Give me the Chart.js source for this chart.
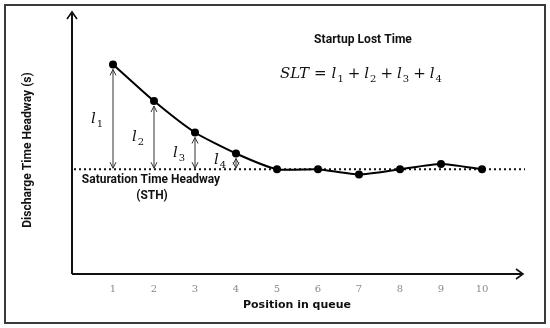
<!DOCTYPE html>
<html>
<head>
<meta charset="utf-8">
<script src="https://cdn.jsdelivr.net/npm/chart.js@4"></script>
<style>
  html, body { margin: 0; padding: 0; background: #fff; }
  #wrap { width: 550px; height: 328px; position: relative; }
</style>
</head>
<body>
<div id="wrap"><canvas id="c" width="550" height="328"></canvas></div>
<script>
// queue positions and discharge headways (s)
const positions = [1, 2, 3, 4, 5, 6, 7, 8, 9, 10];
const headways = [4.0, 3.3, 2.7, 2.3, 2.0, 2.0, 1.9, 2.0, 2.1, 2.0];
const saturationHeadway = 2.0;
const lostLabels = ['l1', 'l2', 'l3', 'l4'];
const xTicks = [1, 2, 3, 4, 5, 6, 7, 8, 9, 10];

const narrow = 'Roboto, "Liberation Sans", sans-serif';
const mathFont = '"DejaVu Serif", "Liberation Serif", serif';

function mathLabel(ctx, base, sub, x, y, size) {
  ctx.font = 'italic ' + size + 'px ' + mathFont;
  ctx.textAlign = 'left';
  ctx.textBaseline = 'alphabetic';
  ctx.fillText(base, x, y);
  const w = ctx.measureText(base).width;
  ctx.font = Math.round(size * 0.68) + 'px ' + mathFont;
  ctx.fillText(sub, x + w + 1, y + size * 0.25);
  return w + 1 + ctx.measureText(sub).width;
}

// condensed-looking text by squeezing horizontally
function squeezed(ctx, text, x, y, sx) {
  ctx.save();
  ctx.translate(x, y);
  ctx.scale(sx, 1);
  ctx.fillText(text, 0, 0);
  ctx.restore();
}

const overlay = {
  id: 'overlay',
  beforeDraw(chart) {
    const ctx = chart.ctx;
    const xs = chart.scales.x, ys = chart.scales.y;
    ctx.save();
    // outer frame
    ctx.strokeStyle = '#3a3a3a';
    ctx.lineWidth = 2;
    ctx.strokeRect(5, 5, 540, 318);

    // saturation dotted line
    const ySat = ys.getPixelForValue(saturationHeadway);
    ctx.strokeStyle = '#111';
    ctx.lineWidth = 2;
    ctx.setLineDash([2, 3]);
    ctx.beginPath();
    ctx.moveTo(xs.left + 2, ySat);
    ctx.lineTo(xs.right + 2, ySat);
    ctx.stroke();
    ctx.setLineDash([]);

    // axes with arrows
    const x0 = xs.left, y0 = ys.bottom;
    ctx.strokeStyle = '#111';
    ctx.lineWidth = 2;
    ctx.beginPath();
    ctx.moveTo(x0, y0);
    ctx.lineTo(x0, ys.top);
    ctx.moveTo(x0, y0);
    ctx.lineTo(xs.right, y0);
    ctx.stroke();
    ctx.lineWidth = 1.6;
    ctx.beginPath();
    ctx.moveTo(x0 - 5, ys.top + 7);
    ctx.lineTo(x0, ys.top);
    ctx.lineTo(x0 + 5, ys.top + 7);
    ctx.moveTo(xs.right - 7, y0 - 5);
    ctx.lineTo(xs.right, y0);
    ctx.lineTo(xs.right - 7, y0 + 5);
    ctx.stroke();

    // lost time arrows l1..l4
    ctx.strokeStyle = '#333';
    ctx.fillStyle = '#111';
    ctx.lineWidth = 1;
    lostLabels.forEach((lab, i) => {
      const px = xs.getPixelForValue(positions[i]);
      const top = ys.getPixelForValue(headways[i]) + 5;
      const bot = ySat - 1;
      ctx.beginPath();
      ctx.moveTo(px, top);
      ctx.lineTo(px, bot);
      ctx.moveTo(px - 3, top + 6);
      ctx.lineTo(px, top);
      ctx.lineTo(px + 3, top + 6);
      ctx.moveTo(px - 3, bot - 6);
      ctx.lineTo(px, bot);
      ctx.lineTo(px + 3, bot - 6);
      ctx.stroke();
      const ly = (top + bot) / 2 + 4 + (i === 3 ? -3 : 0);
      mathLabel(ctx, 'l', String(i + 1), px - 22, ly, 15);
    });

    // texts
    ctx.fillStyle = '#111';
    ctx.font = 'bold 13px ' + narrow;
    ctx.textAlign = 'center';
    ctx.textBaseline = 'middle';
    squeezed(ctx, 'Startup Lost Time', 363, 40, 0.93);
    squeezed(ctx, 'Saturation Time Headway', 151, 180, 0.92);
    squeezed(ctx, '(STH)', 152, 196, 0.92);

    // formula
    let fx = 280;
    const fy = 78;
    ctx.font = 'italic 15px ' + mathFont;
    ctx.textAlign = 'left';
    ctx.textBaseline = 'alphabetic';
    ctx.fillText('SLT', fx, fy);
    fx += ctx.measureText('SLT').width + 5;
    ctx.font = '15px ' + mathFont;
    ctx.fillText('=', fx, fy);
    fx += ctx.measureText('=').width + 5;
    lostLabels.forEach((lab, i) => {
      fx += mathLabel(ctx, 'l', String(i + 1), fx, fy, 15);
      if (i < 3) {
        ctx.font = '15px ' + mathFont;
        fx += 4;
        ctx.fillText('+', fx, fy);
        fx += ctx.measureText('+').width + 4;
      }
    });

    // axis titles
    ctx.font = 'bold 13px ' + narrow;
    ctx.textAlign = 'center';
    ctx.textBaseline = 'middle';
    ctx.save();
    ctx.translate(28, 150);
    ctx.rotate(-Math.PI / 2);
    ctx.scale(0.93, 1);
    ctx.fillText('Discharge Time Headway (s)', 0, 0);
    ctx.restore();
    ctx.font = 'bold 11px "DejaVu Sans", sans-serif';
    ctx.fillText('Position in queue', 297, 305);
    ctx.restore();
  }
};

new Chart(document.getElementById('c'), {
  type: 'line',
  data: {
    datasets: [{
      data: positions.map((p, i) => ({ x: p, y: headways[i] })),
      borderColor: '#000',
      backgroundColor: '#000',
      borderWidth: 2,
      pointRadius: 4,
      pointBackgroundColor: '#000',
      pointBorderWidth: 0,
      tension: 0.2
    }]
  },
  options: {
    responsive: false,
    animation: false,
    layout: { padding: { left: 72, right: 27, top: 12, bottom: 0 } },
    plugins: { legend: { display: false }, tooltip: { enabled: false } },
    scales: {
      x: {
        type: 'linear',
        min: 0,
        max: 11,
        afterFit: s => { s.height = 54; },
        afterBuildTicks: s => { s.ticks = xTicks.map(v => ({ value: v })); },
        grid: { display: false, drawTicks: false },
        border: { display: false },
        ticks: {
          color: '#8a8a8a',
          padding: 9,
          font: { family: '"DejaVu Serif", serif', size: 10 }
        }
      },
      y: {
        min: 0,
        max: 5,
        afterFit: s => { s.width = 0; },
        grid: { display: false, drawTicks: false },
        border: { display: false },
        ticks: { display: false }
      }
    }
  },
  plugins: [overlay]
});
</script>
</body>
</html>
